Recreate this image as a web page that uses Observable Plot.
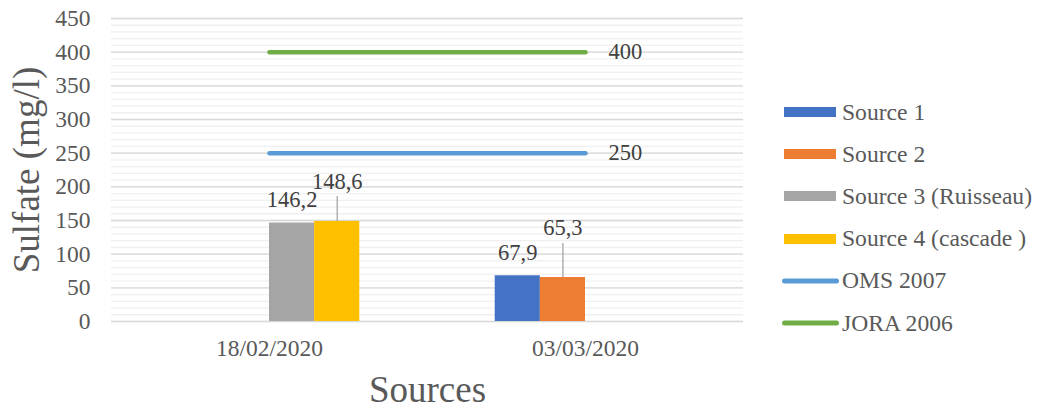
<!DOCTYPE html>
<html>
<head>
<meta charset="utf-8">
<script src="https://cdn.jsdelivr.net/npm/d3@7"></script>
<script src="https://cdn.jsdelivr.net/npm/@observablehq/plot@0.6"></script>
<style>
  html, body { margin: 0; padding: 0; background: #fff; }
  #wrap { position: relative; width: 1037px; height: 410px; font-family: "Liberation Serif", "Times New Roman", serif; }
  #chart { position: absolute; left: 0; top: 0; }
  #legend { position: absolute; left: 782px; top: 91px; }
  .row { display: flex; align-items: center; height: 42.2px; font-size: 23.6px; color: #595959; white-space: pre; }
  .row svg { margin-right: 3px; }
</style>
</head>
<body>
<div id="wrap"><div id="chart"></div><div id="legend"></div></div>
<script>
// Sampling dates (categories)
const dates = ["18/02/2020", "03/03/2020"];

// Sulfate per source, one value per date (null = no sample that day)
const seriesNames = ["Source 1", "Source 2", "Source 3 (Ruisseau)", "Source 4 (cascade )"];
const seriesColors = ["#4472c4", "#ed7d31", "#a5a5a5", "#ffc000"];
const source1 = [null, 67.9];
const source2 = [null, 65.3];
const source3 = [146.2, null];
const source4 = [148.6, null];

// Regulatory limits
const limitNames = ["OMS 2007", "JORA 2006"];
const limitValues = [250, 400];
const limitColors = ["#5b9bd5", "#70ad47"];

// Y axis ticks
const yTicks = [0, 50, 100, 150, 200, 250, 300, 350, 400, 450];
const yMinorTicks = d3.range(0, 451, 10);

// ---- build the tables ----
const seriesValues = [source1, source2, source3, source4];
const nSeries = seriesNames.length;
const slot = 1 / 7; // bar width as a share of a category (gap width 300%)
const bars = [];
seriesValues.forEach((vals, k) => {
  vals.forEach((v, i) => {
    if (v == null) return;
    bars.push({
      date: i,
      series: seriesNames[k],
      color: seriesColors[k],
      value: v,
      x1: i + (k - nSeries / 2) * slot,
      x2: i + (k - nSeries / 2 + 1) * slot
    });
  });
});
bars.forEach(d => d.xm = (d.x1 + d.x2) / 2);

const limits = [];
limitNames.forEach((name, j) => {
  dates.forEach((_, i) => limits.push({name, color: limitColors[j], value: limitValues[j], date: i}));
});
const limitEnds = limitNames.map((name, j) => ({name, value: limitValues[j], date: dates.length - 1}));

// labels lifted above their neighbour, with a leader line
const lifted = {"Source 4 (cascade )": {dy: -40, leader: 25}, "Source 2": {dy: -50, leader: 34}};
const plainLabels = bars.filter(d => !lifted[d.series]);
const liftedLabels = bars.filter(d => lifted[d.series]);
const fmt = v => String(v).replace(".", ",");

const textColor = "#595959";
const labelColor = "#404040";

const chart = Plot.plot({
  width: 780,
  height: 410,
  marginLeft: 111,
  marginRight: 37,
  marginTop: 18,
  marginBottom: 89,
  style: {fontFamily: "'Liberation Serif', 'Times New Roman', serif", background: "#fff"},
  x: {type: "linear", domain: [-0.5, dates.length - 0.5]},
  y: {domain: [0, 450]},
  marks: [
    Plot.ruleY(yMinorTicks, {stroke: "#f0f0f0", strokeWidth: 1.3}),
    Plot.ruleY(yTicks, {stroke: "#d9d9d9", strokeWidth: 1.3}),
    Plot.axisY({ticks: yTicks, tickSize: 0, tickPadding: 21, fontSize: 23.5, color: textColor, label: null}),
    Plot.axisX({ticks: d3.range(dates.length), tickFormat: i => dates[i], tickSize: 0, tickPadding: 18, fontSize: 23.5, color: textColor, label: null}),
    Plot.rectY(bars, {x1: "x1", x2: "x2", y1: 0, y2: "value", fill: "color"}),
    Plot.line(limits, {x: "date", y: "value", z: "name", stroke: "color", strokeWidth: 4.5, strokeLinecap: "round"}),
    Plot.text(limitEnds, {x: "date", y: "value", text: d => String(d.value), dx: 23, textAnchor: "start", lineAnchor: "middle", fontSize: 22.5, fill: labelColor}),
    Plot.text(plainLabels, {x: "xm", y: "value", text: d => fmt(d.value), dy: -23, lineAnchor: "middle", fontSize: 22.5, fill: labelColor}),
    ...liftedLabels.map(d => Plot.ruleX([d], {x: "xm", y1: "value", y2: "value", insetTop: -lifted[d.series].leader, stroke: "#a6a6a6", strokeWidth: 1.3})),
    ...liftedLabels.map(d => Plot.text([d], {x: "xm", y: "value", text: d => fmt(d.value), dy: lifted[d.series].dy, lineAnchor: "middle", fontSize: 22.5, fill: labelColor})),
    Plot.text(["Sulfate (mg/l)"], {frameAnchor: "left", rotate: -90, dx: -84, fontSize: 37, fill: textColor, textAnchor: "middle", lineAnchor: "middle"}),
    Plot.text(["Sources"], {frameAnchor: "bottom", dy: 69, fontSize: 37, fill: textColor, textAnchor: "middle", lineAnchor: "middle"})
  ]
});
document.getElementById("chart").appendChild(chart);

// Legend on the right: bar series as flat swatches, limits as rounded lines
const legend = d3.select("#legend");
seriesNames.forEach((name, k) => {
  const row = legend.append("div").attr("class", "row");
  const s = row.append("svg").attr("width", 57).attr("height", 14);
  s.append("rect").attr("x", 2).attr("y", 2).attr("width", 52).attr("height", 10).attr("fill", seriesColors[k]);
  row.append("span").text(name);
});
limitNames.forEach((name, j) => {
  const row = legend.append("div").attr("class", "row");
  const s = row.append("svg").attr("width", 57).attr("height", 14);
  s.append("line").attr("x1", 2.5).attr("x2", 54.5).attr("y1", 7).attr("y2", 7)
    .attr("stroke", limitColors[j]).attr("stroke-width", 5).attr("stroke-linecap", "round");
  row.append("span").text(name);
});
</script>
</body>
</html>
